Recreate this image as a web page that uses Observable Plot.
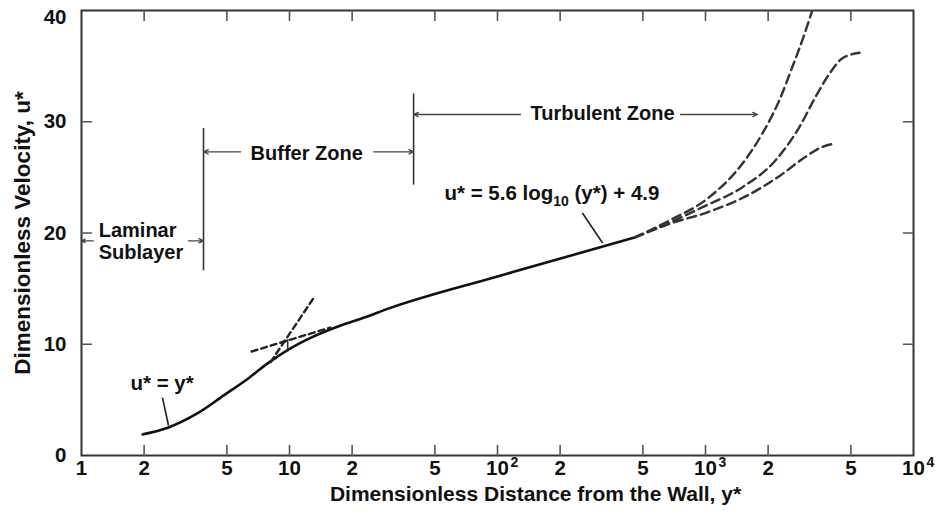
<!DOCTYPE html>
<html>
<head>
<meta charset="utf-8">
<script src="https://cdn.jsdelivr.net/npm/d3@7"></script>
<script src="https://cdn.jsdelivr.net/npm/@observablehq/plot@0.6"></script>
<style>
  html, body { margin: 0; padding: 0; background: #fff; }
  #chart { width: 940px; height: 521px; }
</style>
</head>
<body>
<div id="chart"></div>
<script>
// ---------- axis ticks ----------
const xTicks = [1, 2, 5, 10, 20, 50, 100, 200, 500, 1000, 2000, 5000, 10000];
const xTickLabels = ["1", "2", "5", "10", "2", "5", "10", "2", "5", "10", "2", "5", "10"];
const xInnerTicks = [2, 5, 10, 20, 50, 100, 200, 500, 1000, 2000, 5000];
const xPowerTicks = [100, 1000, 10000];
const xPowerLabels = ["2", "3", "4"];
const yTicks = [0, 10, 20, 30];
const yTopTick = [40];
const yInnerTicks = [10, 20, 30];

// ---------- curves ----------
const solidX = [1.97, 2.6, 3.62, 4.83, 6.31, 7.88, 9.83, 12.7, 17.1, 22.9, 29.8, 100, 457];
const solidU = [1.9, 2.5, 3.8, 5.4, 6.9, 8.3, 9.5, 10.6, 11.6, 12.4, 13.2, 16.1, 19.6];

const upperX = [457, 667, 1040, 1500, 1871, 2261, 2612, 2917, 3260];
const upperU = [19.6, 21.1, 23.2, 26.2, 28.9, 31.9, 34.9, 37.3, 40.0];

const middleX = [457, 667, 962, 1500, 2163, 2823, 3373, 3937, 4550, 5495];
const middleU = [19.6, 20.9, 22.3, 24.1, 26.5, 29.5, 32.2, 34.3, 35.7, 36.2];

const lowerX = [457, 667, 1075, 1600, 2300, 3000, 3600, 4074];
const lowerU = [19.6, 20.8, 22.0, 23.4, 25.2, 26.8, 27.7, 28.0];

// short dashed guide lines in the buffer zone
const steepX = [8.11, 13.0];
const steepU = [8.4, 14.1];
const flatX = [6.57, 15.7];
const flatU = [9.35, 11.5];

// ---------- annotations ----------
const zoneLineX = [3.86, 39.5, 9.8];
const zoneLineU1 = [16.6, 24.3, 9.3];
const zoneLineU2 = [29.4, 32.5, 10.4];

const arrowX1 = [1.14, 3.27, 5.82, 25.4, 129, 759];
const arrowX2 = [1.0, 3.86, 3.86, 39.5, 39.5, 1778];
const arrowU = [19.3, 19.3, 27.3, 27.3, 30.65, 30.65];

const leaderX1 = [256, 2.45];
const leaderU1 = [21.8, 5.2];
const leaderX2 = [320, 2.62];
const leaderU2 = [19.1, 2.7];

const leftLabels = ["Laminar", "Sublayer"];
const leftLabelX = [1.21, 1.21];
const leftLabelU = [20.2, 18.2];

const midLabels = ["Buffer Zone", "Turbulent Zone"];
const midLabelX = [12.1, 320];
const midLabelU = [27.1, 30.7];

const eqLabels = ["u* = 5.6 log10 (y*) + 4.9", "u* = y*"];
const eqLabelX = [55.6, 1.72];
const eqLabelU = [23.55, 6.5];

const xTitle = "Dimensionless Distance from the Wall, y*";
const yTitle = "Dimensionless Velocity, u*";

// ---------- build tables ----------
const zip = (xs, ys) => xs.map((x, i) => ({x, u: ys[i]}));
const solid = zip(solidX, solidU);
const branches = [
  ...upperX.map((x, i) => ({x, u: upperU[i], s: "upper"})),
  ...middleX.map((x, i) => ({x, u: middleU[i], s: "middle"})),
  ...lowerX.map((x, i) => ({x, u: lowerU[i], s: "lower"}))
];
const guides = [
  ...steepX.map((x, i) => ({x, u: steepU[i], s: "steep"})),
  ...flatX.map((x, i) => ({x, u: flatU[i], s: "flat"}))
];
const zoneLines = zoneLineX.map((x, i) => ({x, u1: zoneLineU1[i], u2: zoneLineU2[i]}));
const arrows = arrowX1.map((x1, i) => ({x1, x2: arrowX2[i], u: arrowU[i]}));
const leaders = leaderX1.map((x1, i) => ({x1, u1: leaderU1[i], x2: leaderX2[i], u2: leaderU2[i]}));
const leftText = leftLabels.map((t, i) => ({t, x: leftLabelX[i], u: leftLabelU[i]}));
const midText = midLabels.map((t, i) => ({t, x: midLabelX[i], u: midLabelU[i]}));
const eqText = eqLabels.map((t, i) => ({t, x: eqLabelX[i], u: eqLabelU[i]}));
const xLabels = xTicks.map((x, i) => ({x, t: xTickLabels[i]}));
const powers = xPowerTicks.map((x, i) => ({x, p: xPowerLabels[i]}));

const FONT = "'Liberation Sans', Arial, Helvetica, sans-serif";
const tickLine = {draw(ctx, l) { ctx.moveTo(0, 0); ctx.lineTo(0, -l); }};
const tickStyle = {length: 10, anchor: "start", shape: tickLine, stroke: "#555", strokeWidth: 1.6};
const bold = {fontWeight: "bold", fill: "#111"};
const yAxisStyle = {anchor: "left", tickSize: 0, tickPadding: 15, label: null,
  tickFormat: d => String(d), fontSize: 20.5, fontWeight: "bold"};

const chart = Plot.plot({
  width: 940,
  height: 521,
  marginLeft: 81,
  marginRight: 27,
  marginTop: 10,
  marginBottom: 66,
  style: {fontFamily: FONT, background: "#fff", color: "#111", overflow: "visible"},
  x: {type: "log", domain: [1, 10000], axis: null},
  y: {domain: [0, 40]},
  marks: [
    // curves
    Plot.line(solid, {x: "x", y: "u", curve: "monotone-x", stroke: "#111", strokeWidth: 2.6}),
    Plot.line(branches, {x: "x", y: "u", z: "s", curve: "monotone-x", stroke: "#333",
      strokeWidth: 2.4, strokeDasharray: "9,5", clip: true}),
    Plot.line(guides, {x: "x", y: "u", z: "s", stroke: "#222", strokeWidth: 2.4, strokeDasharray: "6,4"}),
    // zone boundary lines and arrows
    Plot.ruleX(zoneLines, {x: "x", y1: "u1", y2: "u2", stroke: "#333", strokeWidth: 1.6}),
    Plot.arrow(arrows, {x1: "x1", x2: "x2", y1: "u", y2: "u", stroke: "#444", strokeWidth: 1.3,
      headLength: 6, headAngle: 50}),
    Plot.link(leaders, {x1: "x1", y1: "u1", x2: "x2", y2: "u2", stroke: "#222", strokeWidth: 1.6}),
    Plot.text(leftText, {x: "x", y: "u", text: "t", textAnchor: "start", fontSize: 20, ...bold}),
    Plot.text(midText, {x: "x", y: "u", text: "t", textAnchor: "middle", fontSize: 20, ...bold}),
    Plot.text(eqText, {x: "x", y: "u", text: "t", textAnchor: "start", fontSize: 20.5, ...bold}),
    // frame and inward ticks
    Plot.frame({stroke: "#333", strokeWidth: 2}),
    Plot.vector(xInnerTicks, {x: d => d, frameAnchor: "bottom", rotate: 0, ...tickStyle}),
    Plot.vector(xInnerTicks, {x: d => d, frameAnchor: "top", rotate: 180, ...tickStyle}),
    Plot.vector(yInnerTicks, {y: d => d, frameAnchor: "left", rotate: 90, ...tickStyle}),
    Plot.vector(yInnerTicks, {y: d => d, frameAnchor: "right", rotate: 270, ...tickStyle}),
    // tick labels
    Plot.text(xLabels, {x: "x", text: "t", frameAnchor: "bottom", dy: 19, textAnchor: "middle",
      fontSize: 20.5, ...bold}),
    Plot.text(powers, {x: "x", text: "p", frameAnchor: "bottom", dx: 13, dy: 11,
      textAnchor: "start", fontSize: 14, ...bold}),
    Plot.axisY(yTicks, yAxisStyle),
    Plot.axisY(yTopTick, {...yAxisStyle, dy: 7}),
    // axis titles
    Plot.text([xTitle], {frameAnchor: "bottom", dx: 38, dy: 45, textAnchor: "middle", fontSize: 21, ...bold}),
    Plot.text([yTitle], {frameAnchor: "left", dx: -59, rotate: -90, textAnchor: "middle", fontSize: 22.5, ...bold})
  ]
});

document.getElementById("chart").appendChild(chart);

// subscript "10" in the log-law equation
d3.select(chart).selectAll("text").filter(function () {
  return this.textContent === eqLabels[0];
}).each(function () {
  const t = d3.select(this);
  t.text(null);
  t.append("tspan").text("u* = 5.6 log");
  t.append("tspan").attr("font-size", 14).attr("dy", 6).text("10");
  t.append("tspan").attr("dy", -6).text(" (y*) + 4.9");
});
</script>
</body>
</html>
